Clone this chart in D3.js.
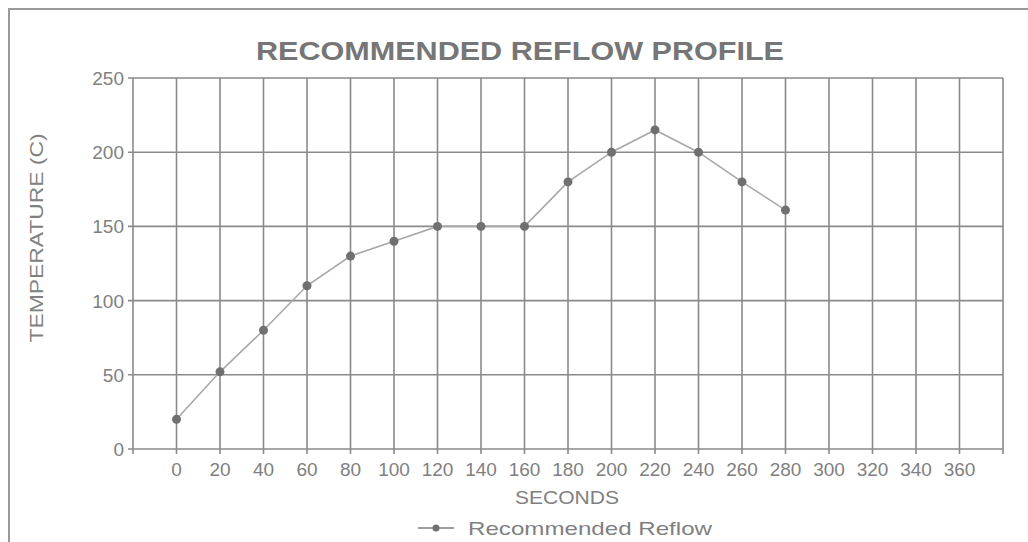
<!DOCTYPE html>
<html><head><meta charset="utf-8">
<script src="https://cdn.jsdelivr.net/npm/d3@7"></script>
<style>body{margin:0;background:#fff}svg{display:block}text{font-family:"Liberation Sans","DejaVu Sans",sans-serif}</style>
</head><body><svg id="c" width="1028" height="542"></svg>
<script>
const seconds = [0,20,40,60,80,100,120,140,160,180,200,220,240,260,280];
const temps = [20,52,80,110,130,140,150,150,150,180,200,215,200,180,161];
const xTickLabels = [0,20,40,60,80,100,120,140,160,180,200,220,240,260,280,300,320,340,360];
const yTickLabels = [0,50,100,150,200,250];
const title = "RECOMMENDED REFLOW PROFILE";
const xTitle = "SECONDS", yTitle = "TEMPERATURE (C)", seriesName = "Recommended Reflow";

const svg = d3.select("#c");
const L=133,R=1003,T=78,B=449;
const x = d3.scaleLinear().domain([-20,380]).range([L,R]);
const y = d3.scaleLinear().domain([0,250]).range([B,T]);
const grid="#8a8a8a", txt="#808080";

// outer frame
svg.append("path").attr("d","M9,542V9H1028").attr("fill","none").attr("stroke","#9a9a9a").attr("stroke-width",2);

// vertical gridlines
const vg = d3.range(-20,381,20);
svg.append("g").selectAll("line").data(vg).join("line")
 .attr("x1",d=>x(d)).attr("x2",d=>x(d)).attr("y1",T).attr("y2",B+5)
 .attr("stroke",grid).attr("stroke-width",1.6);
// horizontal
svg.append("g").selectAll("line").data(yTickLabels).join("line")
 .attr("x1",L-5).attr("x2",R).attr("y1",d=>y(d)).attr("y2",d=>y(d))
 .attr("stroke",grid).attr("stroke-width",1.6);

// y labels
svg.append("g").selectAll("text").data(yTickLabels).join("text")
 .attr("x",L-9).attr("y",d=>y(d)+7).attr("text-anchor","end")
 .attr("font-size",19).attr("fill",txt).text(d=>d);
// x labels
svg.append("g").selectAll("text").data(xTickLabels).join("text")
 .attr("x",d=>x(d)).attr("y",B+27).attr("text-anchor","middle")
 .attr("font-size",19).attr("fill",txt).text(d=>d);

// series
const pts = seconds.map((s,i)=>[s,temps[i]]);
svg.append("path").datum(pts).attr("fill","none").attr("stroke","#a8a8a8").attr("stroke-width",1.6)
 .attr("d",d3.line().x(d=>x(d[0])).y(d=>y(d[1])));
svg.append("g").selectAll("circle").data(pts).join("circle")
 .attr("cx",d=>x(d[0])).attr("cy",d=>y(d[1])).attr("r",4.5).attr("fill","#707070");

// titles
svg.append("text").attr("x",520).attr("y",60).attr("text-anchor","middle")
 .attr("font-size",25).attr("font-weight","bold").attr("fill","#767676")
 .attr("textLength",528).attr("lengthAdjust","spacingAndGlyphs").text(title);
svg.append("text").attr("transform","translate(43,238) rotate(-90)").attr("text-anchor","middle")
 .attr("font-size",18).attr("fill",txt)
 .attr("textLength",209).attr("lengthAdjust","spacingAndGlyphs").text(yTitle);
svg.append("text").attr("x",567).attr("y",504).attr("text-anchor","middle")
 .attr("font-size",18).attr("fill",txt)
 .attr("textLength",104).attr("lengthAdjust","spacingAndGlyphs").text(xTitle);

// legend
svg.append("line").attr("x1",418).attr("x2",454).attr("y1",528).attr("y2",528).attr("stroke","#808080").attr("stroke-width",1.6);
svg.append("circle").attr("cx",436).attr("cy",528).attr("r",3.5).attr("fill","#707070");
svg.append("text").attr("x",468).attr("y",535).attr("font-size",19).attr("fill",txt)
 .attr("textLength",244).attr("lengthAdjust","spacingAndGlyphs").text(seriesName);
</script></body></html>
